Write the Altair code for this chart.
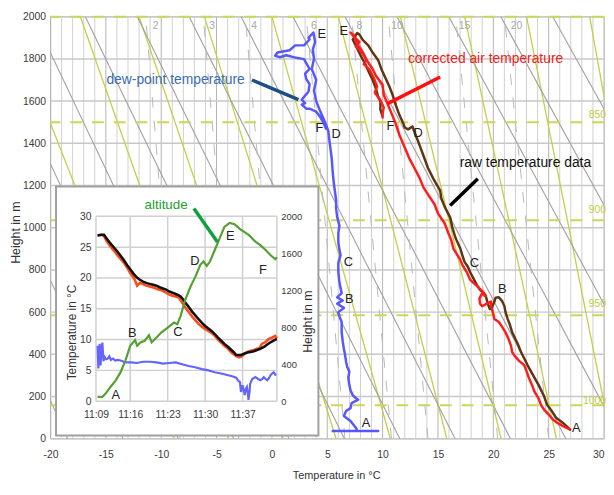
import altair as alt
import pandas as pd

FONT = "Liberation Sans"

# ---------------- main diagram: axes and grid ----------------
T_ticks = [-20, -15, -10, -5, 0, 5, 10, 15, 20, 25, 30]
h_ticks = [0, 200, 400, 600, 800, 1000, 1200, 1400, 1600, 1800, 2000]
grid_T = list(range(-20, 31))

# pressure levels (hPa) and their heights (m)
p_levels = ["1000", "950", "900", "850", "800"]
p_heights = [159, 585, 1035, 1500, 2000]
p_label_h = [178, 637, 1082, 1536]

# dry adiabats: temperature at 0 m and at 2000 m
dry_T0 = [-18.45, -13.45, -8.45, -3.45, 1.55, 6.55, 11.55, 16.55, 21.55, 26.55, 31.55, 36.55, 41.55, 46.55]
dry_T1 = [-35.6, -30.9, -26.2, -21.55, -16.85, -12.16, -7.47, -2.78, 1.91, 6.61, 11.3, 15.99, 20.68, 25.37]
# moist adiabats
moist_T0 = [-8.8, -3.9, 1.0, 5.8, 10.7, 15.8, 20.7, 25.7, 30.65, 35.6]
moist_T1 = [-23.8, -17.3, -12.0, -6.1, 0.0, 6.0, 11.6, 17.4, 23.0, 28.7]
# mixing-ratio lines (g/kg)
mix_w = ["2", "3", "4", "6", "8", "10", "15", "20"]
mix_T0 = [-8.3, -3.0, 0.9, 6.6, 10.8, 14.1, 20.4, 25.0]
mix_T1 = [-11.4, -6.2, -2.4, 3.1, 7.2, 10.5, 16.6, 21.0]
mix_label_T = [-10.5, -5.4, -1.6, 3.8, 7.9, 11.3, 17.4, 22.1]

# ---------------- main sounding profiles ----------------
red_h = [44, 60, 75, 90, 115, 137, 161, 190, 225, 254, 290, 320, 348, 370, 395, 411, 440, 470, 504, 530,
         553, 567, 590, 629, 650, 640, 628, 640, 665, 690, 675, 695, 720, 754, 790, 824, 850, 900, 941, 980,
         1021, 1068, 1110, 1150, 1190, 1240, 1290, 1330, 1380, 1442, 1490, 1530, 1580, 1630, 1677, 1720, 1752, 1790, 1831, 1870,
         1911, 1925, 1905, 1880, 1860, 1830, 1800, 1775, 1750, 1710, 1670, 1640, 1605, 1570, 1540, 1518]
red_T = [26.9, 26.3, 25.8, 25.4, 25.0, 24.6, 24.3, 24.1, 23.7, 23.5, 23.2, 23.0, 22.8, 22.3, 21.9, 21.7, 21.6, 21.4, 21.1, 20.8,
         20.5, 20.1, 20.0, 19.8, 19.8, 19.4, 19.0, 18.8, 18.75, 19.0, 19.3, 19.1, 18.6, 17.9, 17.6, 17.2, 17.0, 16.4, 16.2, 15.9,
         15.6, 15.0, 14.7, 14.2, 13.7, 13.3, 12.8, 12.4, 12.0, 11.5, 11.2, 10.9, 10.5, 10.1, 10.0, 9.4, 9.1, 8.6, 8.2, 7.7,
         7.4, 7.1, 7.4, 7.9, 7.6, 8.1, 8.5, 8.3, 8.8, 9.2, 9.5, 9.3, 9.8, 10.1, 10.0, 10.0]

raw_h = [40, 55, 75, 98, 130, 161, 200, 254, 300, 348, 380, 411, 450, 504, 540, 567, 600, 629, 652, 670,
         668, 650, 625, 614, 640, 680, 698, 705, 730, 760, 790, 815, 838, 870, 904, 950, 1000, 1049, 1100, 1140,
         1176, 1230, 1283, 1340, 1410, 1450, 1480, 1466, 1475, 1490, 1536, 1580, 1630, 1670, 1705, 1750, 1794, 1830, 1864, 1890,
         1916, 1922, 1905, 1892, 1860, 1817, 1780, 1738, 1700, 1658, 1620, 1597, 1560, 1527]
raw_T = [27.0, 26.7, 26.3, 25.7, 25.3, 24.85, 24.6, 24.1, 23.6, 23.1, 22.8, 22.5, 22.2, 21.7, 21.5, 21.3, 21.1, 21.0, 20.8, 20.5,
         20.2, 20.1, 19.9, 19.7, 19.5, 19.3, 19.0, 18.8, 18.5, 18.2, 17.9, 17.7, 17.4, 17.2, 17.0, 16.6, 16.3, 16.1, 15.6, 15.3,
         15.2, 14.6, 14.1, 13.7, 13.2, 12.9, 12.7, 12.3, 12.0, 11.9, 11.5, 11.2, 10.9, 10.6, 10.3, 9.9, 9.6, 9.1, 8.7, 8.2,
         7.9, 7.7, 7.5, 7.3, 7.6, 8.0, 8.4, 8.75, 9.1, 9.4, 9.6, 9.8, 9.8, 10.0]

dew_h = [37, 37, 38, 51, 84, 108, 131, 145, 169, 185, 192, 206, 230, 253, 290, 318, 340, 365, 400, 426,
         460, 506, 553, 580, 600, 620, 640, 655, 670, 690, 740, 790, 834, 870, 895, 930, 974, 1010, 1049, 1090,
         1129, 1170, 1208, 1260, 1330, 1370, 1410, 1457, 1500, 1560, 1600, 1650, 1700, 1752, 1800, 1845, 1880, 1911, 1925, 1900,
         1892, 1864, 1864, 1841, 1830, 1815, 1808, 1817, 1805, 1799, 1780, 1752, 1730, 1705, 1680, 1644, 1620, 1606, 1590, 1583,
         1564, 1564, 1550, 1530, 1503, 1480, 1466]
dew_T = [5.4, 9.6, 7.7, 7.6, 7.1, 6.5, 6.7, 7.1, 7.2, 7.8, 7.6, 7.3, 7.1, 7.0, 6.9, 7.0, 6.8, 6.7, 6.6, 6.5,
         6.4, 6.3, 6.3, 6.1, 6.0, 6.5, 5.9, 6.4, 5.9, 6.3, 6.1, 6.0, 6.0, 6.2, 6.1, 6.0, 6.0, 6.1, 5.9, 5.8,
         5.8, 5.7, 5.6, 5.5, 5.4, 5.3, 5.2, 5.1, 4.8, 4.3, 4.0, 3.8, 4.0, 3.6, 3.8, 3.7, 3.9, 3.8, 3.75, 3.3,
         3.4, 2.9, 2.1, 1.6, 0.5, 0.3, 0.7, 1.3, 2.2, 2.9, 3.1, 3.4, 3.0, 3.1, 3.4, 3.3, 2.9, 2.7, 3.0, 2.7,
         3.1, 3.4, 4.0, 4.3, 4.6, 4.8, 4.9]

# point labels along the profiles
pt_labels = ["A", "B", "C", "D", "F", "E"]
dew_lbl_T = [8.5, 7.0, 6.9, 5.8, 4.3, 4.5]
dew_lbl_h = [75, 660, 838, 1443, 1471, 1916]
air_lbl_T = [27.5, 20.8, 18.3, 13.2, 10.7, 6.5]
air_lbl_h = [52, 707, 834, 1447, 1480, 1934]

# annotations: text, position, pointer start/end
ann_text = ["dew-point temperature", "corrected air temperature", "raw temperature data"]
ann_T = [-8.7, 19.3, 22.9]
ann_h = [1700, 1799, 1307]
ann_color = ["#3b6db0", "#ee1c1c", "#111111"]
ptr_T0 = [-1.8, 15.2, 18.6]
ptr_h0 = [1700, 1714, 1232]
ptr_T1 = [2.4, 10.45, 16.1]
ptr_h1 = [1607, 1588, 1105]
ptr_color = ["#1f4e86", "#ff1010", "#000000"]

# inset frame (in main-diagram coordinates)
box_T = [-19.5, 4.2]
box_h = [15, 1195]

# ---------------- inset: time series (minutes after 11:00) ----------------
t_ticks = [9.6, 16, 23, 30, 37]
v_ticks = [0, 5, 10, 15, 20, 25, 30]
a_ticks = [0, 400, 800, 1200, 1600, 2000]

blk_t = [9.9, 10.6, 11.1, 11.6, 12.3, 13.0, 13.6, 14.2, 14.8, 15.4, 16.0, 16.6, 17.2, 17.8, 18.4, 19.0, 19.7, 20.3, 20.9, 21.5,
         22.1, 22.7, 23.3, 23.9, 24.5, 25.0, 25.4, 25.9, 26.3, 27.0, 27.6, 28.2, 28.8, 29.4, 30.0, 30.6, 31.2, 31.8, 32.4, 33.0,
         33.6, 34.3, 34.9, 35.4, 35.8, 36.3, 36.7, 37.3, 37.9, 38.5, 39.1, 39.7, 40.3, 41.0, 41.6, 42.3, 43.1, 43.4]
blk_v = [26.9, 27.0, 27.0, 26.4, 25.6, 24.9, 24.3, 23.6, 22.9, 22.1, 21.4, 20.7, 20.1, 19.7, 19.4, 19.2, 19.0, 18.9, 18.75, 18.5,
         18.3, 18.1, 17.8, 17.6, 17.4, 17.2, 17.0, 16.5, 16.0, 15.2, 14.5, 13.9, 13.3, 12.7, 12.2, 11.8, 11.4, 10.9, 10.3, 9.8,
         9.3, 8.8, 8.3, 7.9, 7.5, 7.5, 7.5, 7.7, 7.9, 8.0, 8.1, 8.3, 8.5, 8.8, 9.2, 9.6, 10.0, 10.1]

red2_t = [9.9, 10.6, 11.1, 11.6, 12.3, 13.0, 13.6, 14.2, 14.8, 15.4, 16.0, 16.5, 16.9, 17.3, 17.8, 18.4, 19.0, 19.6, 20.2, 20.8,
          21.5, 22.1, 22.7, 23.3, 23.9, 24.5, 25.1, 25.7, 26.3, 27.0, 27.6, 28.2, 28.8, 29.4, 30.0, 30.6, 31.2, 31.8, 32.4, 33.0,
          33.6, 34.3, 34.9, 35.4, 35.8, 36.4, 36.9, 37.3, 37.9, 38.5, 39.1, 39.7, 40.2, 40.6, 41.3, 41.9, 42.5, 43.1, 43.4]
red2_v = [26.9, 27.0, 26.8, 26.0, 25.1, 24.4, 23.7, 23.1, 22.5, 21.7, 20.8, 20.2, 19.6, 18.75, 19.2, 19.0, 18.75, 18.6, 18.5, 18.3,
          18.1, 17.9, 17.6, 17.3, 17.1, 17.0, 16.8, 16.0, 15.2, 14.4, 13.7, 13.1, 12.5, 12.1, 11.7, 11.4, 11.1, 10.6, 10.0, 9.5,
          9.0, 8.5, 7.9, 7.6, 7.3, 7.1, 7.3, 7.7, 8.0, 8.2, 8.3, 8.5, 8.6, 9.3, 9.6, 10.1, 10.3, 10.6, 10.2]

dew2_t = [9.9, 10.05, 10.15, 10.3, 10.45, 10.6, 10.8, 11.0, 11.2, 11.5, 11.8, 12.1, 12.4, 12.8, 13.2, 13.7, 14.2, 14.8, 15.4, 16.2,
          17.2, 18.4, 19.7, 20.9, 22.1, 23.3, 24.5, 25.7, 26.9, 28.1, 29.4, 30.6, 31.8, 33.0, 34.3, 35.2, 35.8, 36.2, 36.5, 36.7,
          37.0, 37.2, 37.4, 37.6, 37.8, 38.0, 38.1, 38.3, 38.4, 38.8, 39.4, 39.9, 40.3, 40.7, 40.95, 41.3, 41.6, 41.9, 42.2, 42.5,
          42.8, 43.1, 43.3]
dew2_v = [9.0, 5.3, 7.5, 9.3, 5.8, 8.0, 9.5, 6.5, 7.2, 6.8, 6.9, 7.3, 6.7, 6.9, 6.6, 6.7, 6.6, 6.4, 6.3, 6.3,
          6.2, 6.4, 6.4, 6.3, 6.1, 6.2, 6.3, 6.0, 5.7, 5.5, 5.2, 5.0, 4.7, 4.5, 4.2, 4.0, 3.8, 3.3, 3.1, 1.5,
          2.6, 1.8, 1.0, 2.0, 2.3, 1.2, 0.2, 1.5, 2.8, 3.6, 3.9, 3.6, 3.4, 3.6, 3.9, 3.6, 3.4, 3.7, 4.2, 4.5,
          4.7, 4.3, 4.4]

alt_t = [9.9, 10.8, 11.4, 12.3, 13.3, 14.2, 15.1, 16.0, 16.9, 17.3, 17.9, 18.7, 19.5, 20.0, 20.6, 21.8, 23.0, 24.2, 24.8, 25.4,
         26.3, 27.3, 28.2, 29.1, 29.7, 30.3, 30.9, 31.8, 32.7, 33.6, 34.6, 35.5, 36.4, 37.3, 38.2, 38.8, 39.4, 40.3, 41.3, 42.2,
         43.1, 43.4]
alt_a = [46, 46, 82, 154, 225, 314, 439, 600, 661, 600, 636, 654, 714, 636, 671, 743, 796, 850, 832, 921,
         1100, 1243, 1350, 1475, 1511, 1464, 1511, 1636, 1761, 1886, 1929, 1914, 1868, 1832, 1796, 1761, 1725, 1689, 1636, 1582,
         1536, 1557]

in_lbl_t = [13.3, 16.4, 24.9, 28.1, 34.7, 40.8]
in_lbl_a = [64, 738, 749, 1519, 1786, 1422]
in_lbl = ["A", "B", "C", "D", "E", "F"]
altitude_txt_t, altitude_txt_a = 22.7, 2118
altitude_ptr = [27.9, 2086, 32.3, 1722]

# ---------------- scales ----------------
sx = alt.Scale(domain=[-20, 30], nice=False, zero=False)
sy = alt.Scale(domain=[0, 2000], nice=False, zero=False)
st = alt.Scale(domain=[9.6, 43.4], range=[46, 229], nice=False, zero=False)
sv = alt.Scale(domain=[0, 30], range=[389, 202], nice=False, zero=False)
sa = alt.Scale(domain=[0, 2000], range=[389, 202], nice=False, zero=False)

lab = dict(labelFont=FONT, titleFont=FONT, labelColor="#3a3a3a", titleColor="#333333",
           labelFontSize=10.5, titleFontWeight="normal")
PLAIN = "'' + datum.value"

x_axis = alt.Axis(values=T_ticks, orient="bottom", grid=False, ticks=False, domain=False, labelFlush=False,
                  labelExpr=PLAIN,
                  labelAlign={"condition": {"test": "datum.value == 30", "value": "right"}, "value": "center"},
                  labelPadding=11, title="Temperature in °C", titleFontSize=11,
                  titleX=289, titleY=37, titleBaseline="middle", zindex=1, **lab)
y_axis = alt.Axis(values=h_ticks, orient="left", grid=False, ticks=False, domain=False, labelPadding=5,
                  labelExpr=PLAIN, title="Height in m", titleFontSize=12.5,
                  titleAngle=270, titleBaseline="middle", titleX=-35, titleY=218, zindex=1, **lab)


def MX(f="T", axis=None):
    return alt.X(f"{f}:Q", scale=sx, axis=axis)


def MY(f="h", axis=None):
    return alt.Y(f"{f}:Q", scale=sy, axis=axis)


# ---------------- main layers ----------------
vgrid = alt.Chart(pd.DataFrame({"T": grid_T, "major": [t % 5 == 0 for t in grid_T]})).mark_rule(strokeWidth=1).encode(
    x=MX("T", x_axis),
    color=alt.condition("datum.major", alt.value("#b3b3b3"), alt.value("#d0d0d0")),
)
hgrid = alt.Chart(pd.DataFrame({"h": h_ticks})).mark_rule(strokeWidth=1.5, color="#c8c8c8").encode(
    y=MY("h", y_axis))

dry = alt.Chart(pd.DataFrame({"T0": dry_T0, "T1": dry_T1, "h0": 0, "h1": 2000})).mark_rule(
    clip=True, color="#a0a0a0", strokeWidth=1.1).encode(x=MX("T0"), x2="T1:Q", y=MY("h0"), y2="h1:Q")
moist = alt.Chart(pd.DataFrame({"T0": moist_T0, "T1": moist_T1, "h0": 0, "h1": 2000})).mark_rule(
    clip=True, color="#c3d044", strokeWidth=1.3).encode(x=MX("T0"), x2="T1:Q", y=MY("h0"), y2="h1:Q")
mix = alt.Chart(pd.DataFrame({"T0": mix_T0, "T1": mix_T1, "h0": 0, "h1": 2000})).mark_rule(
    clip=True, color="#b8b8b8", strokeWidth=1, strokeDash=[11, 13]).encode(
    x=MX("T0"), x2="T1:Q", y=MY("h0"), y2="h1:Q")
pdash = alt.Chart(pd.DataFrame({"h": p_heights})).mark_rule(
    color="#cbd65a", strokeWidth=2, strokeDash=[12, 10]).encode(y=MY("h"))
plabels = alt.Chart(pd.DataFrame({"T": 30, "h": p_label_h, "s": p_levels[:4]})).mark_text(
    align="right", baseline="middle", dx=2, fontSize=10.5, color="#c2cc45", font=FONT).encode(
    x=MX("T"), y=MY("h"), text="s:N")
mlabels = alt.Chart(pd.DataFrame({"T": mix_label_T, "h": 1958, "s": mix_w})).mark_text(
    align="center", baseline="middle", fontSize=10.5, color="#a8a8a8", font=FONT).encode(
    x=MX("T"), y=MY("h"), text="s:N")


def profile(hs, ts, color, width=2.5):
    df = pd.DataFrame({"h": hs, "T": ts, "i": range(len(hs))})
    return alt.Chart(df).mark_line(color=color, strokeWidth=width, strokeJoin="round").encode(
        x=MX("T"), y=MY("h"), order="i:Q")


raw_line = profile(raw_h, raw_T, "#5e3612")
red_line = profile(red_h, red_T, "#ff1c1c")
dew_line = profile(dew_h, dew_T, "#5757ff")

lbl_df = pd.DataFrame({"T": dew_lbl_T + air_lbl_T, "h": dew_lbl_h + air_lbl_h, "s": pt_labels + pt_labels})
pt_text = alt.Chart(lbl_df).mark_text(fontSize=13, color="#222222", font=FONT).encode(
    x=MX("T"), y=MY("h"), text="s:N")

ann_df = pd.DataFrame({"T": ann_T, "h": ann_h, "s": ann_text, "c": ann_color})
ann = alt.Chart(ann_df).mark_text(fontSize=14, font=FONT).encode(
    x=MX("T"), y=MY("h"), text="s:N", color=alt.Color("c:N", scale=None))
ptr_df = pd.DataFrame({"T0": ptr_T0, "h0": ptr_h0, "T1": ptr_T1, "h1": ptr_h1, "c": ptr_color})
ptr = alt.Chart(ptr_df).mark_rule(strokeWidth=3.5).encode(
    x=MX("T0"), x2="T1:Q", y=MY("h0"), y2="h1:Q", color=alt.Color("c:N", scale=None))

box = alt.Chart(pd.DataFrame({"T0": [box_T[0]], "T1": [box_T[1]], "h0": [box_h[0]], "h1": [box_h[1]]})).mark_rect(
    fill="white", stroke="#a0a0a0", strokeWidth=2).encode(x=MX("T0"), x2="T1:Q", y=MY("h0"), y2="h1:Q")

# ---------------- inset layers ----------------
t_axis = alt.Axis(values=t_ticks, orient="bottom", offset=-38, grid=False, ticks=False, domain=False,
                  labelFlush=False, labelPadding=9, title=None, zindex=1,
                  labelExpr="datum.value < 10 ? '11:09' : '11:' + datum.value", **lab)
v_axis = alt.Axis(values=v_ticks, orient="left", offset=-46, grid=False, ticks=False, domain=False,
                  labelPadding=5, labelExpr=PLAIN, title="Temperature in °C", titleFontSize=12,
                  titleAngle=270, titleBaseline="middle", titleX=-25, titleY=319, zindex=1, **lab)
a_axis = alt.Axis(values=a_ticks, orient="right", offset=-331, grid=False, ticks=False, domain=False,
                  labelPadding=4, labelExpr=PLAIN, title="Height in m", titleFontSize=12.5,
                  titleAngle=270, titleBaseline="middle", titleX=31, titleY=308, zindex=1,
                  labelFont=FONT, titleFont=FONT, labelColor="#3a3a3a", titleColor="#333333",
                  labelFontSize=9.5, titleFontWeight="normal")

ig_v = alt.Chart(pd.DataFrame({"t": [9.6, 16, 23, 30, 37, 43.4], "v0": 0, "v1": 30})).mark_rule(
    color="#d0d0d0", strokeWidth=1.5).encode(
    x=alt.X("t:Q", scale=st, axis=t_axis), y=alt.Y("v0:Q", scale=sv, axis=None), y2="v1:Q")
ig_h = alt.Chart(pd.DataFrame({"v": v_ticks, "t0": 9.6, "t1": 43.4})).mark_rule(
    color="#d0d0d0", strokeWidth=1.5).encode(
    y=alt.Y("v:Q", scale=sv, axis=v_axis), x=alt.X("t0:Q", scale=st, axis=None), x2="t1:Q")


def tseries(ts, vs, color, width=2.4):
    df = pd.DataFrame({"t": ts, "v": vs})
    return alt.Chart(df).mark_line(color=color, strokeWidth=width).encode(
        x=alt.X("t:Q", scale=st, axis=None), y=alt.Y("v:Q", scale=sv, axis=None))


green = alt.Chart(pd.DataFrame({"t": alt_t, "a": alt_a})).mark_line(color="#54a030", strokeWidth=2.2).encode(
    x=alt.X("t:Q", scale=st, axis=None), y=alt.Y("a:Q", scale=sa, axis=a_axis))
in_text = alt.Chart(pd.DataFrame({"t": in_lbl_t, "a": in_lbl_a, "s": in_lbl})).mark_text(
    fontSize=13, color="#222222", font=FONT).encode(
    x=alt.X("t:Q", scale=st, axis=None), y=alt.Y("a:Q", scale=sa, axis=None), text="s:N")
alt_text = alt.Chart(pd.DataFrame({"t": [altitude_txt_t], "a": [altitude_txt_a], "s": ["altitude"]})).mark_text(
    fontSize=13.5, color="#22a02e", font=FONT).encode(
    x=alt.X("t:Q", scale=st, axis=None), y=alt.Y("a:Q", scale=sa, axis=None), text="s:N")
alt_ptr = alt.Chart(pd.DataFrame({"t0": [altitude_ptr[0]], "a0": [altitude_ptr[1]],
                                  "t1": [altitude_ptr[2]], "a1": [altitude_ptr[3]]})).mark_rule(
    color="#10a040", strokeWidth=3.5).encode(
    x=alt.X("t0:Q", scale=st, axis=None), x2="t1:Q", y=alt.Y("a0:Q", scale=sa, axis=None), y2="a1:Q")

layers = [vgrid, hgrid, moist, dry, mix, pdash, plabels, mlabels,
          raw_line, red_line, dew_line, pt_text, ann, ptr, box,
          ig_v, ig_h,
          tseries(dew2_t, dew2_v, "#6464ff", 2.2),
          tseries(red2_t, red2_v, "#ff4a1c", 2.6),
          tseries(blk_t, blk_v, "#111111", 2.6),
          green, in_text, alt_text, alt_ptr]

chart = alt.layer(*layers).resolve_scale(x="independent", y="independent").properties(
    width=560, height=427,
    padding={"left": 43, "top": 6, "right": 2, "bottom": 42},
    autosize=alt.AutoSizeParams(type="none"),
).configure_view(stroke=None).configure(font=FONT)

chart.save("out.html", embed_options={"renderer": "svg", "actions": False})
